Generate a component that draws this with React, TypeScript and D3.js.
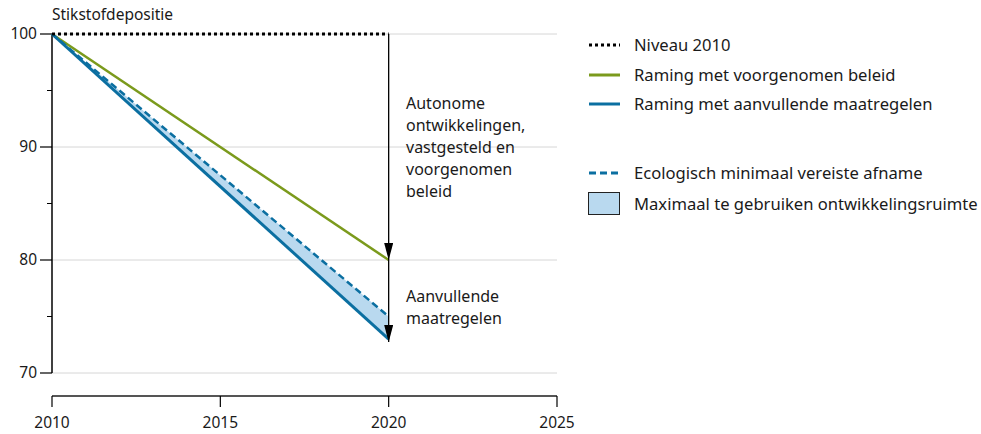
import React, { useEffect, useRef } from 'react';
import * as d3 from 'd3';

// years and series values
const years = [2010, 2020];
const niveau2010 = [100, 100];
const voorgenomen = [100, 80];
const aanvullend = [100, 73];
const ecologisch = [100, 75];

const yTicks = [70, 80, 90, 100];
const yMinorTicks = [75, 85, 95];
const xTicks = [2010, 2015, 2020, 2025];

const legendItems = [
  { label: 'Niveau 2010', kind: 'dot' },
  { label: 'Raming met voorgenomen beleid', kind: 'green' },
  { label: 'Raming met aanvullende maatregelen', kind: 'blue' },
  { label: 'Ecologisch minimaal vereiste afname', kind: 'dash' },
  { label: 'Maximaal te gebruiken ontwikkelingsruimte', kind: 'area' }
];
const legendRows = [45, 75, 104, 173, 204];

const annot1 = ['Autonome', 'ontwikkelingen,', 'vastgesteld en', 'voorgenomen', 'beleid'];
const annot2 = ['Aanvullende', 'maatregelen'];

const GREEN = '#7b9a1c';
const BLUE = '#0b6fa1';
const FILL = '#b9d9ef';
const TEXT = '#1a1a1a';
const FONT = '"Noto Sans", sans-serif';

const App = () => {
  const ref = useRef<SVGSVGElement>(null);

  useEffect(() => {
    const svg = d3.select(ref.current).attr('width', 981).attr('height', 434);
    svg.selectAll('*').remove();
    svg.style('font-family', FONT);

    const x = d3.scaleLinear().domain([2010, 2025]).range([52, 557]);
    const y = d3.scaleLinear().domain([70, 100]).range([373, 34]);

    // arrow marker (points along the line direction)
    svg
      .append('defs')
      .append('marker')
      .attr('id', 'arr')
      .attr('viewBox', '0 0 17 9')
      .attr('refX', 17)
      .attr('refY', 4.5)
      .attr('markerWidth', 17)
      .attr('markerHeight', 9)
      .attr('markerUnits', 'userSpaceOnUse')
      .attr('orient', 'auto')
      .append('path')
      .attr('d', 'M0,0 L17,4.5 L0,9 Z')
      .attr('fill', '#000');

    // gridlines
    svg
      .append('g')
      .selectAll('line')
      .data(yTicks)
      .enter()
      .append('line')
      .attr('x1', x(2010))
      .attr('x2', x(2025))
      .attr('y1', (d) => y(d))
      .attr('y2', (d) => y(d))
      .attr('stroke', '#d6d6d6')
      .attr('stroke-width', 1);

    // y axis
    const yAxis = svg.append('g');
    yAxis
      .append('line')
      .attr('x1', x(2010))
      .attr('x2', x(2010))
      .attr('y1', y(100))
      .attr('y2', y(70))
      .attr('stroke', '#000')
      .attr('stroke-width', 1.5);
    yAxis
      .selectAll('.maj')
      .data(yTicks)
      .enter()
      .append('line')
      .attr('x1', 40)
      .attr('x2', x(2010))
      .attr('y1', (d) => y(d))
      .attr('y2', (d) => y(d))
      .attr('stroke', '#000')
      .attr('stroke-width', 1.2);
    yAxis
      .selectAll('.min')
      .data(yMinorTicks)
      .enter()
      .append('line')
      .attr('x1', 47)
      .attr('x2', x(2010))
      .attr('y1', (d) => y(d))
      .attr('y2', (d) => y(d))
      .attr('stroke', '#000')
      .attr('stroke-width', 1);
    yAxis
      .selectAll('text')
      .data(yTicks)
      .enter()
      .append('text')
      .attr('x', 37)
      .attr('y', (d) => y(d))
      .attr('dy', '0.35em')
      .attr('text-anchor', 'end')
      .attr('font-size', 15.5)
      .attr('fill', TEXT)
      .text((d) => d);

    // x axis
    const axisY = 396;
    const xAxis = svg.append('g');
    xAxis
      .append('line')
      .attr('x1', x(2010))
      .attr('x2', x(2025))
      .attr('y1', axisY)
      .attr('y2', axisY)
      .attr('stroke', '#555')
      .attr('stroke-width', 2);
    xAxis
      .selectAll('.tk')
      .data(xTicks)
      .enter()
      .append('line')
      .attr('x1', (d) => x(d))
      .attr('x2', (d) => x(d))
      .attr('y1', axisY)
      .attr('y2', axisY + 11)
      .attr('stroke', '#000')
      .attr('stroke-width', 1.2);
    xAxis
      .selectAll('text')
      .data(xTicks)
      .enter()
      .append('text')
      .attr('x', (d) => x(d))
      .attr('y', 428)
      .attr('text-anchor', 'middle')
      .attr('font-size', 15.5)
      .attr('fill', TEXT)
      .text((d) => d);

    // title
    svg
      .append('text')
      .attr('x', 52)
      .attr('y', 20)
      .attr('font-size', 15.5)
      .attr('fill', TEXT)
      .text('Stikstofdepositie');

    const pts = (vals: number[]) => years.map((yr, i) => [yr, vals[i]] as [number, number]);
    const line = d3
      .line<[number, number]>()
      .x((d) => x(d[0]))
      .y((d) => y(d[1]));

    // band between ecological minimum and additional measures
    const area = d3
      .area<number>()
      .x((_, i) => x(years[i]))
      .y0((_, i) => y(aanvullend[i]))
      .y1((_, i) => y(ecologisch[i]));
    svg.append('path').attr('d', area(years) as string).attr('fill', FILL);

    svg
      .append('path')
      .attr('d', line(pts(voorgenomen)) as string)
      .attr('fill', 'none')
      .attr('stroke', GREEN)
      .attr('stroke-width', 2.5);

    svg
      .append('path')
      .attr('d', line(pts(aanvullend)) as string)
      .attr('fill', 'none')
      .attr('stroke', BLUE)
      .attr('stroke-width', 3);

    svg
      .append('path')
      .attr('d', line(pts(ecologisch)) as string)
      .attr('fill', 'none')
      .attr('stroke', BLUE)
      .attr('stroke-width', 2.5)
      .attr('stroke-dasharray', '7,4');

    svg
      .append('path')
      .attr('d', line(pts(niveau2010)) as string)
      .attr('fill', 'none')
      .attr('stroke', '#000')
      .attr('stroke-width', 3)
      .attr('stroke-dasharray', '3,3');

    // arrows at 2020
    svg
      .append('line')
      .attr('x1', x(2020))
      .attr('x2', x(2020))
      .attr('y1', y(niveau2010[1]))
      .attr('y2', y(voorgenomen[1]))
      .attr('stroke', '#000')
      .attr('stroke-width', 1.3)
      .attr('marker-end', 'url(#arr)');
    svg
      .append('line')
      .attr('x1', x(2020))
      .attr('x2', x(2020))
      .attr('y1', y(voorgenomen[1]))
      .attr('y2', y(aanvullend[1]) + 3)
      .attr('stroke', '#000')
      .attr('stroke-width', 1.3)
      .attr('marker-end', 'url(#arr)');

    // annotations
    const a1 = svg.append('text').attr('font-size', 16).attr('fill', TEXT);
    annot1.forEach((t, i) => {
      a1.append('tspan').attr('x', 406).attr('y', 109 + i * 22).text(t);
    });
    const a2 = svg.append('text').attr('font-size', 16).attr('fill', TEXT);
    annot2.forEach((t, i) => {
      a2.append('tspan').attr('x', 406).attr('y', 302 + i * 22).text(t);
    });

    // legend
    const lg = svg.append('g');
    legendItems.forEach((item, i) => {
      const cy = legendRows[i];
      if (item.kind === 'area') {
        lg.append('rect')
          .attr('x', 588.5)
          .attr('y', cy - 11.5)
          .attr('width', 31)
          .attr('height', 22)
          .attr('fill', FILL)
          .attr('stroke', '#222')
          .attr('stroke-width', 1);
      } else {
        const l = lg
          .append('line')
          .attr('x1', 589)
          .attr('x2', 620)
          .attr('y1', cy)
          .attr('y2', cy)
          .attr('stroke-width', 3);
        if (item.kind === 'dot') l.attr('stroke', '#000').attr('stroke-dasharray', '3,3');
        if (item.kind === 'green') l.attr('stroke', GREEN);
        if (item.kind === 'blue') l.attr('stroke', BLUE);
        if (item.kind === 'dash') l.attr('stroke', BLUE).attr('stroke-dasharray', '7,4');
      }
      lg.append('text')
        .attr('x', 634)
        .attr('y', cy)
        .attr('dy', '0.35em')
        .attr('font-size', 16.6)
        .attr('fill', TEXT)
        .text(item.label);
    });
  }, []);

  return <svg ref={ref} style={{ position: 'absolute', left: 0, top: 0 }}></svg>;
};

export default App;
